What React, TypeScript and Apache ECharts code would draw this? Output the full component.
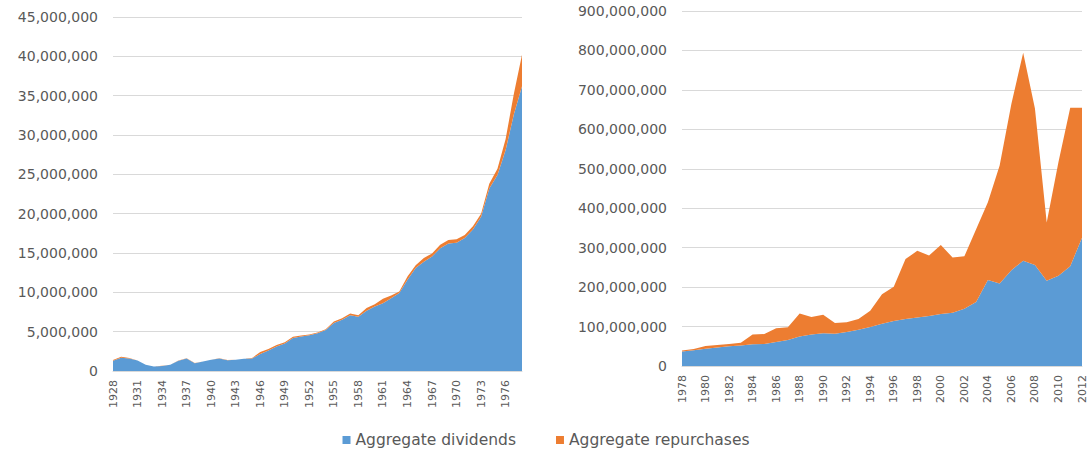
import React, { useEffect, useRef } from "react";
import * as echarts from "echarts";

// Left panel: 1928-1978
const leftYears = [
  "1928","1929","1930","1931","1932","1933","1934","1935","1936","1937",
  "1938","1939","1940","1941","1942","1943","1944","1945","1946","1947",
  "1948","1949","1950","1951","1952","1953","1954","1955","1956","1957",
  "1958","1959","1960","1961","1962","1963","1964","1965","1966","1967",
  "1968","1969","1970","1971","1972","1973","1974","1975","1976","1977","1978",
];
const leftDividends = [
  1300000, 1700000, 1600000, 1330000, 780000, 560000, 650000, 780000, 1300000, 1600000,
  1000000, 1200000, 1420000, 1600000, 1380000, 1420000, 1550000, 1600000, 2150000, 2600000,
  3100000, 3500000, 4200000, 4400000, 4550000, 4800000, 5200000, 6100000, 6500000, 7100000,
  6900000, 7650000, 8200000, 8600000, 9250000, 9900000, 11600000, 13100000, 13900000, 14550000,
  15600000, 16200000, 16300000, 16900000, 18000000, 19600000, 23200000, 24900000, 28100000, 32600000, 36200000,
];
const leftRepurchases = [
  100000, 100000, 50000, 20000, 20000, 20000, 20000, 20000, 20000, 30000,
  20000, 20000, 20000, 20000, 20000, 20000, 20000, 50000, 250000, 200000,
  200000, 150000, 150000, 100000, 100000, 100000, 100000, 200000, 200000, 200000,
  200000, 350000, 300000, 600000, 350000, 200000, 400000, 350000, 450000, 400000,
  450000, 450000, 450000, 400000, 400000, 400000, 600000, 800000, 1400000, 2600000, 4000000,
];

// Right panel: 1978-2012
const rightYears = [
  "1978","1979","1980","1981","1982","1983","1984","1985","1986","1987",
  "1988","1989","1990","1991","1992","1993","1994","1995","1996","1997",
  "1998","1999","2000","2001","2002","2003","2004","2005","2006","2007",
  "2008","2009","2010","2011","2012",
];
const rightDividends = [
  37000000, 40000000, 44000000, 47000000, 50000000, 52000000, 55000000, 56000000, 61000000, 66000000,
  75000000, 80000000, 83000000, 82000000, 86000000, 92000000, 99000000, 107000000, 114000000, 119000000,
  123000000, 127000000, 132000000, 135000000, 145000000, 162000000, 218000000, 209000000, 243000000, 267000000,
  256000000, 216000000, 229000000, 253000000, 325000000,
];
const rightRepurchases = [
  2000000, 3000000, 7000000, 6000000, 6000000, 7000000, 25000000, 25000000, 35000000, 32000000,
  58000000, 44000000, 47000000, 27000000, 25000000, 27000000, 41000000, 75000000, 87000000, 152000000,
  169000000, 153000000, 175000000, 140000000, 133000000, 185000000, 197000000, 299000000, 422000000, 527000000,
  397000000, 148000000, 288000000, 402000000, 330000000,
];

const BLUE = "#5B9BD5";
const ORANGE = "#ED7D31";
const TEXT = "#595959";
const GRID = "#D9D9D9";
const FONT = "DejaVu Sans";

const fmt = (v: number) => v.toLocaleString("en-US");

export default function App() {
  const ref = useRef<HTMLDivElement>(null);

  useEffect(() => {
    if (!ref.current) return;
    const chart = echarts.init(ref.current, undefined, { renderer: "svg" });

    const yAxisBase = {
      type: "value" as const,
      axisLine: { show: false },
      axisTick: { show: false },
      splitLine: { lineStyle: { color: GRID, width: 1 } },
      axisLabel: {
        color: TEXT,
        fontFamily: FONT,
        fontSize: 14,
        margin: 15,
        formatter: (v: number) => fmt(v),
      },
    };
    const xAxisBase = {
      type: "category" as const,
      boundaryGap: false,
      axisLine: { lineStyle: { color: GRID } },
      axisTick: { show: false },
      splitLine: { show: false },
    };
    const areaSeries = (
      name: string,
      data: number[],
      color: string,
      stack: string,
      idx: number
    ) => ({
      name,
      type: "line" as const,
      stack,
      data,
      xAxisIndex: idx,
      yAxisIndex: idx,
      showSymbol: false,
      symbol: "none",
      lineStyle: { width: 0, color },
      itemStyle: { color },
      areaStyle: { color, opacity: 1 },
    });

    chart.setOption({
      animation: false,
      backgroundColor: "#ffffff",
      textStyle: { fontFamily: FONT },
      legend: {
        data: ["Aggregate dividends", "Aggregate repurchases"],
        left: "center",
        top: 427,
        icon: "rect",
        itemWidth: 8,
        itemHeight: 8,
        itemGap: 40,
        textStyle: { color: TEXT, fontFamily: FONT, fontSize: 15.5 },
      },
      grid: [
        { left: 113, top: 17, width: 409, height: 354 },
        { left: 682, top: 11, width: 400, height: 355 },
      ],
      xAxis: [
        {
          ...xAxisBase,
          gridIndex: 0,
          data: leftYears,
          axisLabel: {
            color: TEXT,
            fontFamily: FONT,
            fontSize: 11,
            rotate: 90,
            interval: 2,
            margin: 9,
          },
        },
        {
          ...xAxisBase,
          gridIndex: 1,
          data: rightYears,
          axisLabel: {
            color: TEXT,
            fontFamily: FONT,
            fontSize: 11,
            rotate: 90,
            interval: 1,
            margin: 9,
          },
        },
      ],
      yAxis: [
        { ...yAxisBase, gridIndex: 0, min: 0, max: 45000000, interval: 5000000 },
        { ...yAxisBase, gridIndex: 1, min: 0, max: 900000000, interval: 100000000 },
      ],
      series: [
        areaSeries("Aggregate dividends", leftDividends, BLUE, "L", 0),
        areaSeries("Aggregate repurchases", leftRepurchases, ORANGE, "L", 0),
        areaSeries("Aggregate dividends", rightDividends, BLUE, "R", 1),
        areaSeries("Aggregate repurchases", rightRepurchases, ORANGE, "R", 1),
      ],
    });

    return () => chart.dispose();
  }, []);

  return (
    <div
      ref={ref}
      style={{ position: "fixed", left: 0, top: 0, width: 1092, height: 449 }}
    />
  );
}
